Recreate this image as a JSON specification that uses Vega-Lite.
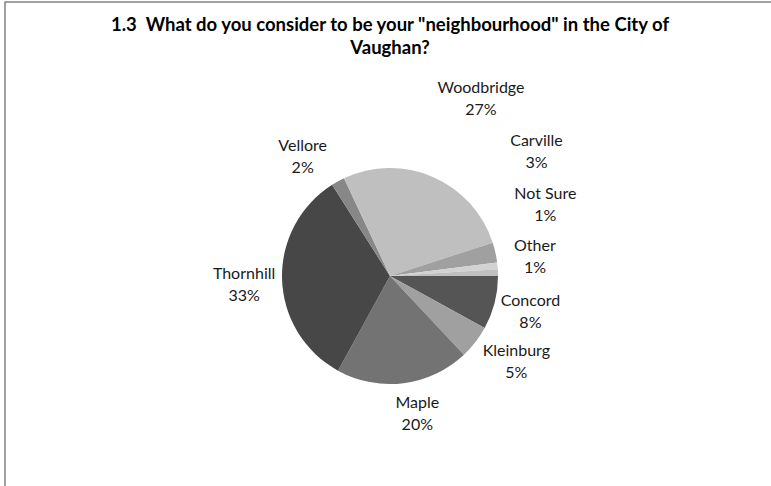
{
  "$schema": "https://vega.github.io/schema/vega-lite/v6.json",
  "width": 770,
  "height": 548,
  "autosize": {"type": "none"},
  "padding": {"left": 5, "top": 2, "right": 0, "bottom": 0},
  "background": "white",
  "view": {"stroke": "#828282", "strokeWidth": 1.5},
  "title": {
    "text": ["1.3\u00a0 What do you consider to be your \"neighbourhood\" in the City of", "Vaughan?"],
    "font": "Lato",
    "fontSize": 18.5,
    "fontWeight": "bold",
    "color": "#000000",
    "anchor": "middle",
    "frame": "group",
    "baseline": "top",
    "offset": -55,
    "lineHeight": 23
  },
  "config": {"view": {"stroke": "#828282", "strokeWidth": 1.5}},
  "data": {
    "values": [
      {"name": "Concord", "share": 8},
      {"name": "Kleinburg", "share": 5},
      {"name": "Maple", "share": 20},
      {"name": "Thornhill", "share": 33},
      {"name": "Vellore", "share": 2},
      {"name": "Woodbridge", "share": 27},
      {"name": "Carville", "share": 3},
      {"name": "Not Sure", "share": 1},
      {"name": "Other", "share": 1}
    ]
  },
  "transform": [
    {"window": [{"op": "row_number", "as": "ord"}]},
    {"calculate": "[datum.name, datum.share + '%']", "as": "label"}
  ],
  "encoding": {
    "theta": {"field": "share", "type": "quantitative", "stack": true, "scale": {"range": [1.5708, 7.854]}},
    "order": {"field": "ord", "type": "quantitative"}
  },
  "layer": [
    {
      "mark": {"type": "arc", "outerRadius": 108},
      "encoding": {
        "color": {
          "field": "name",
          "type": "nominal",
          "scale": {
            "domain": ["Concord", "Kleinburg", "Maple", "Thornhill", "Vellore", "Woodbridge", "Carville", "Not Sure", "Other"],
            "range": ["#555555", "#a0a0a0", "#737373", "#474747", "#878787", "#bfbfbf", "#a0a0a0", "#d2d2d2", "#c0c0c0"]
          },
          "legend": null
        }
      }
    },
    {
      "mark": {
        "type": "text",
        "radius": 146,
        "font": "Lato",
        "fontSize": 16,
        "lineHeight": 22,
        "color": "#1a1a1a",
        "align": "center",
        "baseline": "middle",
        "dx": {"expr": "datum.name === 'Woodbridge' ? 33 : datum.name === 'Carville' ? 4 : datum.name === 'Not Sure' ? 10 : datum.name === 'Kleinburg' ? 11 : datum.name === 'Maple' ? 9 : datum.name === 'Vellore' ? -17 : datum.name === 'Other' ? -1 : datum.name === 'Concord' ? -1 : 0"},
        "dy": {"expr": "datum.name === 'Woodbridge' ? -54 : datum.name === 'Carville' ? -103 : datum.name === 'Not Sure' ? -68 : datum.name === 'Other' ? -25 : datum.name === 'Kleinburg' ? -14 : datum.name === 'Maple' ? -18 : datum.name === 'Thornhill' ? -7 : datum.name === 'Vellore' ? -2 : datum.name === 'Concord' ? -11 : 0"}
      },
      "encoding": {"text": {"field": "label"}}
    }
  ]
}
